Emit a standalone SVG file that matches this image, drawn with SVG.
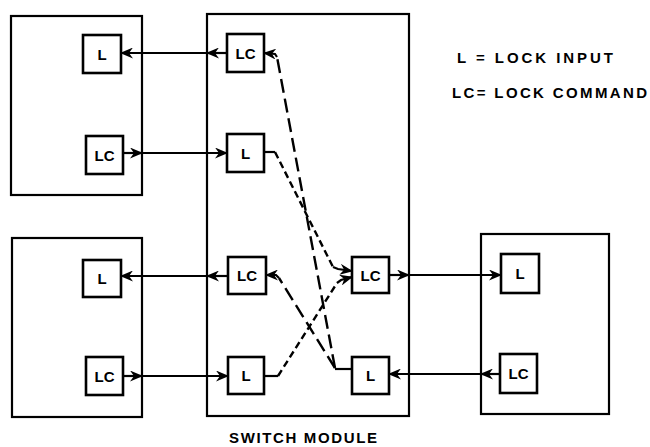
<svg xmlns="http://www.w3.org/2000/svg" width="650" height="447" viewBox="0 0 650 447">
<style>
.outer{fill:none;stroke:#000;stroke-width:2.2}
.box{fill:#fff;stroke:#000;stroke-width:2.6}
.lbl{font-family:"Liberation Sans",Arial,sans-serif;font-weight:bold;font-size:15px;text-anchor:middle;fill:#000}
.txt{font-family:"Liberation Sans",Arial,sans-serif;font-weight:bold;font-size:15px;fill:#000}
.w{fill:none;stroke:#000;stroke-width:2.2}
.ld{fill:none;stroke:#000;stroke-width:2.4;stroke-dasharray:14 6}
.sd{fill:none;stroke:#000;stroke-width:2.4;stroke-dasharray:7 4}
</style>
<defs>
<marker id="ah" markerUnits="userSpaceOnUse" markerWidth="13" markerHeight="11" refX="12" refY="5.5" orient="auto" viewBox="0 0 13 11">
<path d="M0,0 L13,5.5 L0,11 L4,5.5 Z" fill="#000"/>
</marker>
</defs>
<g id="module-top-left"><rect class="outer" x="11" y="16" width="131" height="179"/></g>
<g id="module-bottom-left"><rect class="outer" x="12" y="238" width="130" height="179"/></g>
<g id="switch-module"><rect class="outer" x="207" y="14" width="202" height="402"/>
<text class="txt" x="229" y="443" textLength="148" lengthAdjust="spacing">SWITCH MODULE</text></g>
<g id="module-right"><rect class="outer" x="481" y="234" width="128" height="180"/></g>
<g id="connectors">
<line class="w" x1="227" y1="53" x2="207" y2="53" marker-end="url(#ah)"/>
<line class="w" x1="207" y1="53" x2="121" y2="53" marker-end="url(#ah)"/>
<line class="w" x1="123" y1="153" x2="142" y2="153" marker-end="url(#ah)"/>
<line class="w" x1="142" y1="153" x2="227" y2="153" marker-end="url(#ah)"/>
<line class="w" x1="228" y1="276" x2="207" y2="276" marker-end="url(#ah)"/>
<line class="w" x1="207" y1="276" x2="121" y2="276" marker-end="url(#ah)"/>
<line class="w" x1="123" y1="376" x2="142" y2="376" marker-end="url(#ah)"/>
<line class="w" x1="142" y1="376" x2="228" y2="376" marker-end="url(#ah)"/>
<line class="w" x1="389" y1="275" x2="409" y2="275" marker-end="url(#ah)"/>
<line class="w" x1="409" y1="275" x2="501" y2="275" marker-end="url(#ah)"/>
<line class="w" x1="500" y1="374" x2="481" y2="374" marker-end="url(#ah)"/>
<line class="w" x1="481" y1="374" x2="389" y2="374" marker-end="url(#ah)"/>
<line class="w" x1="352" y1="369" x2="335" y2="369"/>
<line class="ld" x1="335" y1="368" x2="277" y2="57"/>
<polyline class="w" points="277,57 275,54 264,53" marker-end="url(#ah)"/>
<line class="ld" x1="335" y1="368" x2="279" y2="278"/>
<polyline class="w" points="279,278 276,275 266,275" marker-end="url(#ah)"/>
<line class="w" x1="264" y1="152" x2="275" y2="152"/>
<line class="sd" x1="275" y1="152" x2="333" y2="267"/>
<polyline class="w" points="333,267 338,269 352,271" marker-end="url(#ah)"/>
<line class="w" x1="264" y1="376" x2="278" y2="376"/>
<line class="sd" x1="278" y1="376" x2="337" y2="283"/>
<polyline class="w" points="337,283 341,280 352,277" marker-end="url(#ah)"/>
</g>
<g id="tl-L"><rect class="box" x="83" y="35" width="38" height="38"/><text class="lbl" x="102" y="59.5">L</text></g>
<g id="tl-LC"><rect class="box" x="86" y="136" width="37" height="38"/><text class="lbl" x="104.5" y="160.5">LC</text></g>
<g id="bl-L"><rect class="box" x="83" y="260" width="38" height="37"/><text class="lbl" x="102" y="284">L</text></g>
<g id="bl-LC"><rect class="box" x="86" y="357" width="37" height="38"/><text class="lbl" x="104.5" y="381.5">LC</text></g>
<g id="sw-LC1"><rect class="box" x="227" y="34" width="37" height="38"/><text class="lbl" x="245.5" y="58.5">LC</text></g>
<g id="sw-L1"><rect class="box" x="227" y="134" width="37" height="38"/><text class="lbl" x="245.5" y="158.5">L</text></g>
<g id="sw-LC2"><rect class="box" x="228" y="257" width="38" height="37"/><text class="lbl" x="247" y="281">LC</text></g>
<g id="sw-L2"><rect class="box" x="228" y="357" width="36" height="37"/><text class="lbl" x="246" y="381">L</text></g>
<g id="sw-LC3"><rect class="box" x="352" y="257" width="37" height="36"/><text class="lbl" x="370.5" y="280.5">LC</text></g>
<g id="sw-L3"><rect class="box" x="352" y="357" width="37" height="37"/><text class="lbl" x="370.5" y="381">L</text></g>
<g id="r-L"><rect class="box" x="501" y="254" width="38" height="39"/><text class="lbl" x="520" y="279">L</text></g>
<g id="r-LC"><rect class="box" x="500" y="354" width="37" height="39"/><text class="lbl" x="518.5" y="379">LC</text></g>
<g id="legend">
<text class="txt" x="457" y="63" textLength="156" lengthAdjust="spacing">L = LOCK INPUT</text>
<text class="txt" x="452" y="98" textLength="195" lengthAdjust="spacing">LC= LOCK COMMAND</text>
</g>
</svg>
